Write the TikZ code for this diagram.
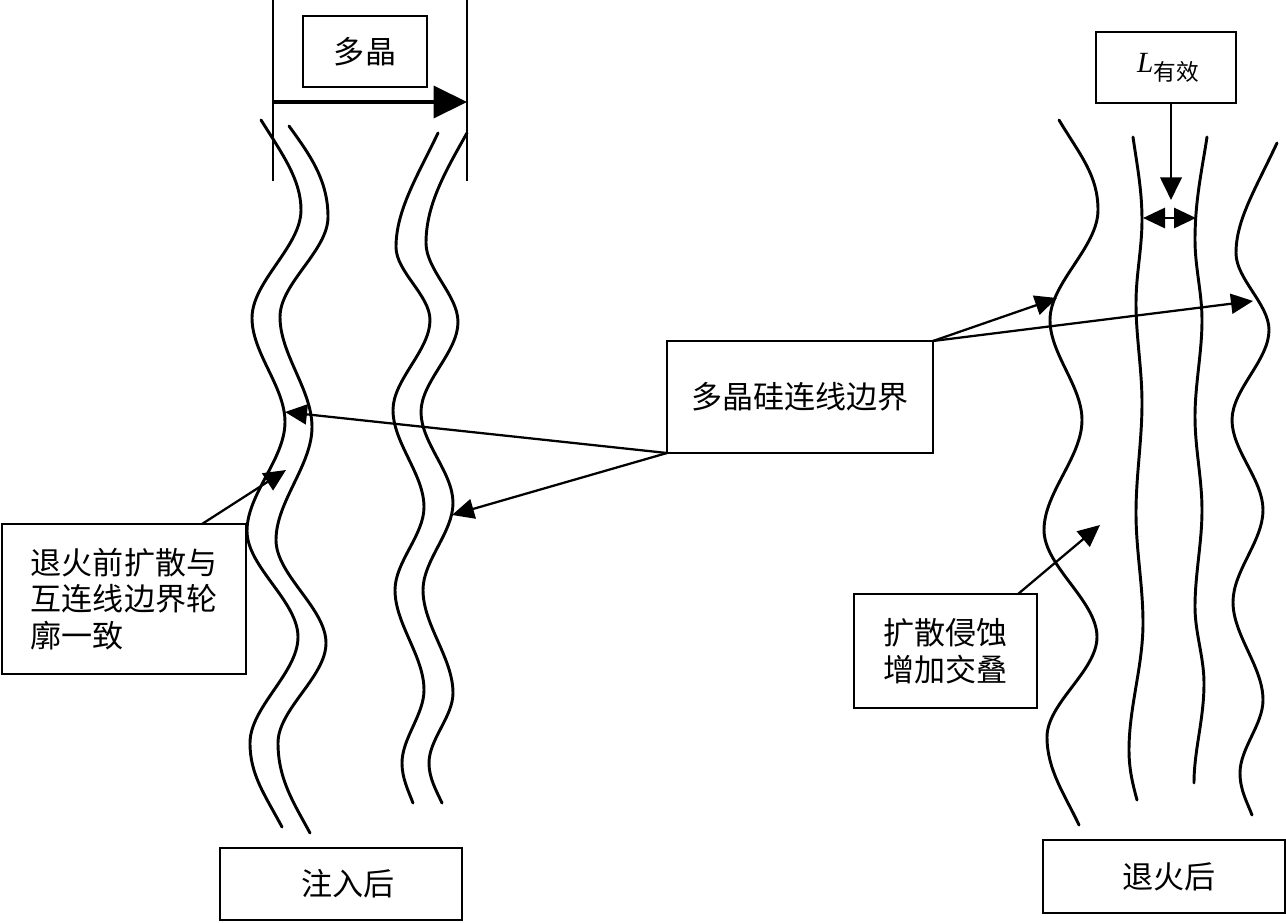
\documentclass[tikz,border=0pt]{standalone}
\usepackage{fontspec}
\usetikzlibrary{arrows.meta}
\newfontfamily\cjk{Noto Sans CJK SC}
\newfontfamily\lser{Liberation Serif}
\tikzset{
  x=0.75pt,y=-0.75pt,
  boxnode/.style={draw=black,line width=1.9pt,fill=white,inner sep=0pt,outer sep=0pt,align=center,font=\cjk\fontsize{23.3}{27.5}\selectfont},
  edgecurve/.style={line width=2.2pt,line cap=round,black},
  guide/.style={line width=2.2pt,black},
  arr/.style={line width=1.7pt,black,-{Stealth[length=16.5pt,width=15pt,inset=0pt]}},
  bigarr/.style={line width=2.6pt,black,-{Stealth[length=25pt,width=24pt,inset=0pt]}},
  midarr/.style={line width=2.2pt,black,{Stealth[length=16.5pt,width=15pt,inset=0pt]}-{Stealth[length=16.5pt,width=15pt,inset=0pt]}},
  vertarr/.style={line width=2.2pt,black,-{Stealth[length=17pt,width=16pt,inset=0pt]}}
}
\begin{document}
\begin{tikzpicture}
\useasboundingbox (0,0) rectangle (1286,922);
% left group
\draw[edgecurve] (261,120) .. controls (283,155) and (301,180) .. (301,210)
 \foreach \x/\y [remember=\x as \px (initially 301),remember=\y as \py (initially 210)] in {252/318,285/422,247/531,298/637,250/743}
 { .. controls (\px,{\py+.34*(\y-\py)}) and (\x,{\y-.34*(\y-\py)}) .. (\x,\y) }
 .. controls (250,775) and (265,795) .. (282,827);
\draw[edgecurve] (289,126) .. controls (310,155) and (328,180) .. (328,217)
 \foreach \x/\y [remember=\x as \px (initially 328),remember=\y as \py (initially 217)] in {280/317,312/427,276/540,326/643,278/743}
 { .. controls (\px,{\py+.34*(\y-\py)}) and (\x,{\y-.34*(\y-\py)}) .. (\x,\y) }
 .. controls (278,780) and (295,805) .. (310,833);
\draw[edgecurve] (438,133) .. controls (418,175) and (396,210) .. (396,247)
 \foreach \x/\y [remember=\x as \px (initially 396),remember=\y as \py (initially 247)] in {430/320,393/410,424/507,395/590,424/690,402/763}
 { .. controls (\px,{\py+.34*(\y-\py)}) and (\x,{\y-.34*(\y-\py)}) .. (\x,\y) }
 .. controls (402,778) and (408,790) .. (413,803);
\draw[edgecurve] (467,133) .. controls (445,172) and (426,205) .. (426,243)
 \foreach \x/\y [remember=\x as \px (initially 426),remember=\y as \py (initially 243)] in {458/322,421/412,453/503,423/590,453/693,429/763}
 { .. controls (\px,{\py+.34*(\y-\py)}) and (\x,{\y-.34*(\y-\py)}) .. (\x,\y) }
 .. controls (429,778) and (436,790) .. (442,803);
% right group
\draw[edgecurve] (1059,120) .. controls (1080,155) and (1098,175) .. (1098,210)
 \foreach \x/\y [remember=\x as \px (initially 1098),remember=\y as \py (initially 210)] in {1050/320,1082/420,1044/530,1097/637,1047/737}
 { .. controls (\px,{\py+.34*(\y-\py)}) and (\x,{\y-.34*(\y-\py)}) .. (\x,\y) }
 .. controls (1047,770) and (1065,795) .. (1079,825);
\draw[edgecurve] (1133,137) .. controls (1137,165) and (1142,190) .. (1142,220)
 \foreach \x/\y [remember=\x as \px (initially 1142),remember=\y as \py (initially 220)] in {1136/303,1142/403,1136/513,1143/623,1129/750}
 { .. controls (\px,{\py+.34*(\y-\py)}) and (\x,{\y-.34*(\y-\py)}) .. (\x,\y) }
 .. controls (1129,770) and (1133,785) .. (1137,800);
\draw[edgecurve] (1207,137) .. controls (1202,170) and (1195,200) .. (1195,240)
 \foreach \x/\y [remember=\x as \px (initially 1195),remember=\y as \py (initially 240)] in {1202/320,1195/417,1202/510,1195/607,1204/683}
 { .. controls (\px,{\py+.34*(\y-\py)}) and (\x,{\y-.34*(\y-\py)}) .. (\x,\y) }
 .. controls (1204,720) and (1194,750) .. (1194,783);
\draw[edgecurve] (1277,143) .. controls (1255,190) and (1236,220) .. (1236,253)
 \foreach \x/\y [remember=\x as \px (initially 1236),remember=\y as \py (initially 253)] in {1269/330,1232/420,1263/510,1233/602,1263/700,1240/773}
 { .. controls (\px,{\py+.34*(\y-\py)}) and (\x,{\y-.34*(\y-\py)}) .. (\x,\y) }
 .. controls (1240,790) and (1247,802) .. (1252,815);
% boxes
\node[boxnode,minimum width=93pt,minimum height=53.25pt] (poly) at (365,51.5) {\raisebox{-2pt}{多晶}};
\node[boxnode,minimum width=105pt,minimum height=53.25pt] (leff) at (1166,67.5) {\hspace*{3pt}{\lser\itshape\fontsize{22}{24}\selectfont L}{\fontsize{17}{20}\selectfont\raisebox{-6pt}{有效}}};
\node[boxnode,minimum width=199.5pt,minimum height=84pt] (main) at (800,397) {多晶硅连线边界};
\node[boxnode,minimum width=183pt,minimum height=112.5pt,align=left] (before) at (124,599) {退火前扩散与\\互连线边界轮\\廓一致};
\node[boxnode,minimum width=137.25pt,minimum height=85.5pt,align=left] (erosion) at (945.5,651) {扩散侵蚀\\增加交叠};
\node[boxnode,minimum width=181.5pt,minimum height=54pt] (implant) at (341,884) {\hspace*{10pt}注入后};
\node[boxnode,minimum width=181.5pt,minimum height=54.75pt] (anneal) at (1164,876.5) {\hspace*{8pt}退火后};
% free ends
\coordinate (gl1) at (273,0);
\coordinate (gl2) at (273,181);
\coordinate (gr1) at (467,0);
\coordinate (gr2) at (467,181);
\coordinate (wl) at (273,102);
\coordinate (wr) at (467,102);
\coordinate (t1) at (285,412);
\coordinate (t2) at (452,515);
\coordinate (t3) at (1057,298);
\coordinate (t4) at (1253,301);
\coordinate (t5) at (286,470);
\coordinate (t6) at (1100,525);
\coordinate (t7) at (1171,200);
\coordinate (d1) at (1143,218);
\coordinate (d2) at (1196,218);
% guides and arrows
\draw[guide] (gl1) -- (gl2);
\draw[guide] (gr1) -- (gr2);
\draw[bigarr] (wl) -- (wr);
\draw[arr] (main.south west) -- (t1);
\draw[arr] (main.south west) -- (t2);
\draw[arr] (main.north east) -- (t3);
\draw[arr] (main.north east) -- (t4);
\draw[arr] ([xshift=58.5pt]before.north) -- (t5);
\draw[arr] ([xshift=54.4pt]erosion.north) -- (t6);
\draw[vertarr] ([xshift=3.75pt]leff.south) -- (t7);
\draw[midarr] (d1) -- (d2);
\end{tikzpicture}
\end{document}
